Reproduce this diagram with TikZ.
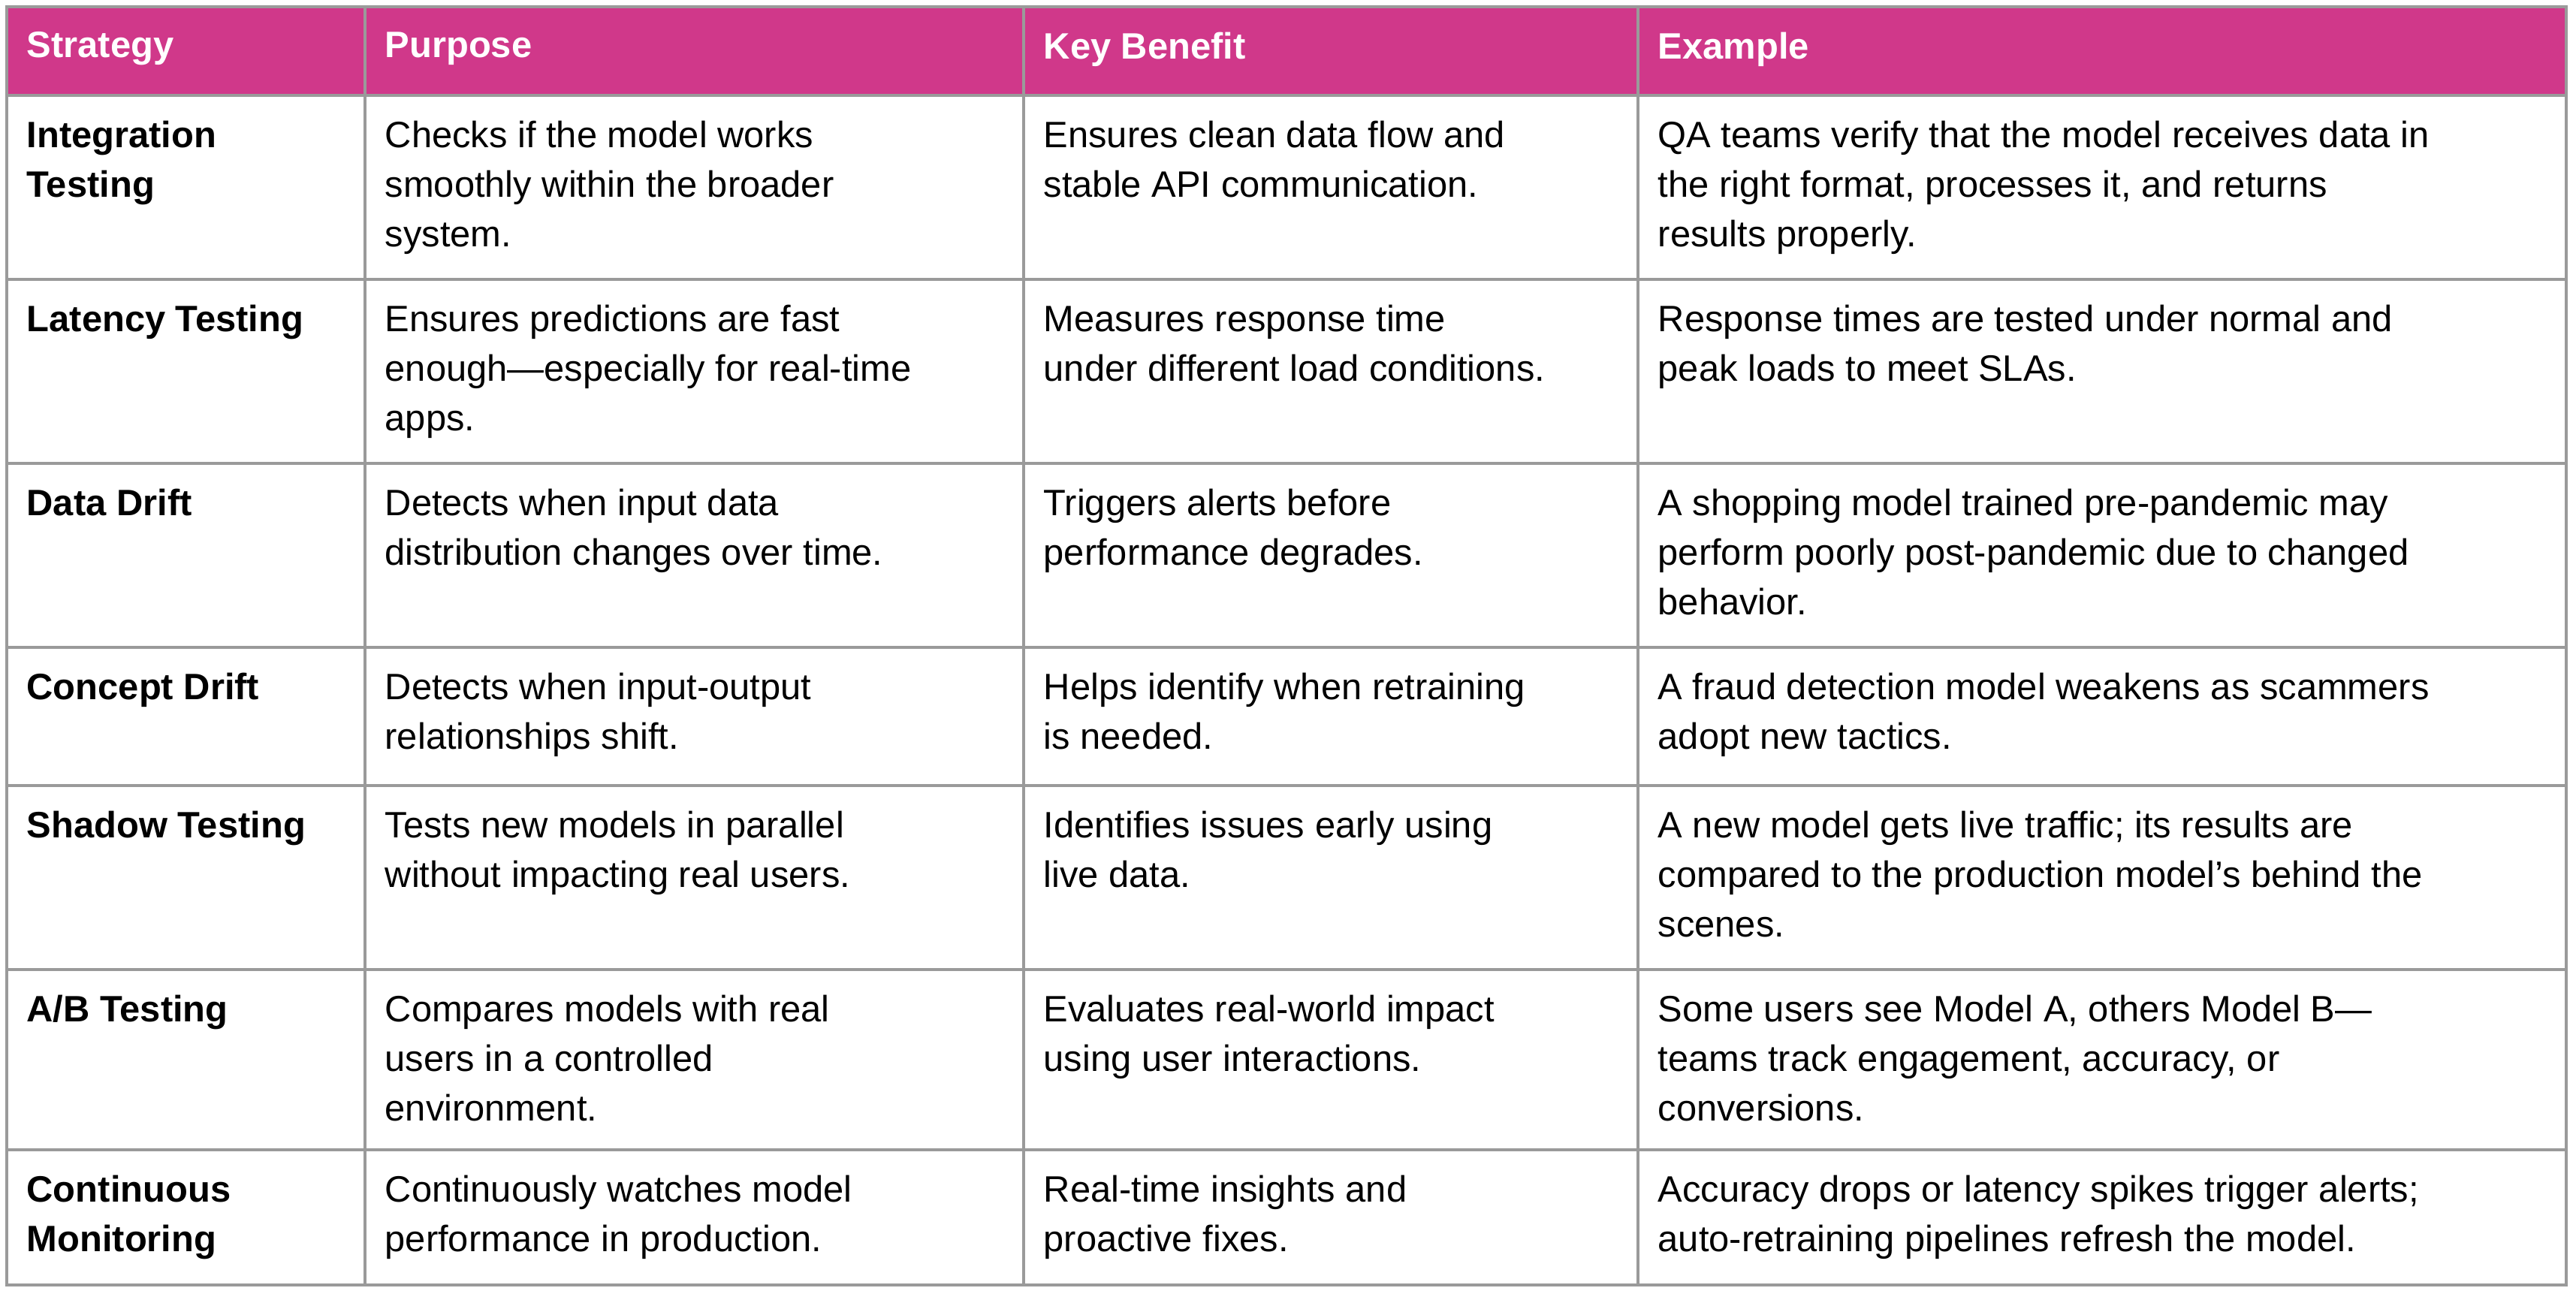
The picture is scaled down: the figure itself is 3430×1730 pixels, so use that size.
\documentclass[tikz,border=0pt]{standalone}
\usepackage{fontspec}
\setmainfont{Liberation Sans}
\definecolor{hdr}{HTML}{D0388A}
\definecolor{grid}{HTML}{9A9A9A}
\begin{document}
\begin{tikzpicture}[x=0.01cm,y=-0.01cm,
 cell/.style={anchor=north west,inner sep=0pt,align=left,font=\fontsize{13.9}{18.8}\selectfont},
 hcell/.style={cell,text=white,font=\fontsize{13.9}{18.8}\selectfont\bfseries},
 bcell/.style={cell,font=\fontsize{13.9}{18.8}\selectfont\bfseries}]
\useasboundingbox (0,0) rectangle (3430,1730);
\fill[white] (0,0) rectangle (3430,1730);
\fill[hdr] (9,9) rectangle (3417,127);
\foreach \y in {127,372,617,862,1046,1291,1531,1711} \draw[grid,line width=1pt] (9,\y) -- (3417,\y);
\draw[grid,line width=1pt] (9,9) rectangle (3417,1711);
\foreach \x in {486,1363,2181} \draw[grid,line width=1pt] (\x,9) -- (\x,1711);
\node[hcell] (h1) at (35,42) {Strategy};
\node[hcell] (h2) at (512,42) {Purpose};
\node[hcell] (h3) at (1389,42) {Key Benefit};
\node[hcell] (h4) at (2207,42) {Example};
% rows
\node[bcell] (a1) at (35,160) {Integration\\Testing};
\node[cell] (a2) at (512,160) {Checks if the model works\\smoothly within the broader\\system.};
\node[cell] (a3) at (1389,160) {Ensures clean data flow and\\stable API communication.};
\node[cell] (a4) at (2207,160) {QA teams verify that the model receives data in\\the right format, processes it, and returns\\results properly.};
\node[bcell] (b1) at (35,405) {Latency Testing};
\node[cell] (b2) at (512,405) {Ensures predictions are fast\\enough—especially for real-time\\apps.};
\node[cell] (b3) at (1389,405) {Measures response time\\under different load conditions.};
\node[cell] (b4) at (2207,405) {Response times are tested under normal and\\peak loads to meet SLAs.};
\node[bcell] (c1) at (35,650) {Data Drift};
\node[cell] (c2) at (512,650) {Detects when input data\\distribution changes over time.};
\node[cell] (c3) at (1389,650) {Triggers alerts before\\performance degrades.};
\node[cell] (c4) at (2207,650) {A shopping model trained pre-pandemic may\\perform poorly post-pandemic due to changed\\behavior.};
\node[bcell] (d1) at (35,895) {Concept Drift};
\node[cell] (d2) at (512,895) {Detects when input-output\\relationships shift.};
\node[cell] (d3) at (1389,895) {Helps identify when retraining\\is needed.};
\node[cell] (d4) at (2207,895) {A fraud detection model weakens as scammers\\adopt new tactics.};
\node[bcell] (e1) at (35,1079) {Shadow Testing};
\node[cell] (e2) at (512,1079) {Tests new models in parallel\\without impacting real users.};
\node[cell] (e3) at (1389,1079) {Identifies issues early using\\live data.};
\node[cell] (e4) at (2207,1079) {A new model gets live traffic; its results are\\compared to the production model’s behind the\\scenes.};
\node[bcell] (f1) at (35,1324) {A/B Testing};
\node[cell] (f2) at (512,1324) {Compares models with real\\users in a controlled\\environment.};
\node[cell] (f3) at (1389,1324) {Evaluates real-world impact\\using user interactions.};
\node[cell] (f4) at (2207,1324) {Some users see Model A, others Model B—\\teams track engagement, accuracy, or\\conversions.};
\node[bcell] (g1) at (35,1564) {Continuous\\Monitoring};
\node[cell] (g2) at (512,1564) {Continuously watches model\\performance in production.};
\node[cell] (g3) at (1389,1564) {Real-time insights and\\proactive fixes.};
\node[cell] (g4) at (2207,1564) {Accuracy drops or latency spikes trigger alerts;\\auto-retraining pipelines refresh the model.};
\end{tikzpicture}
\end{document}
